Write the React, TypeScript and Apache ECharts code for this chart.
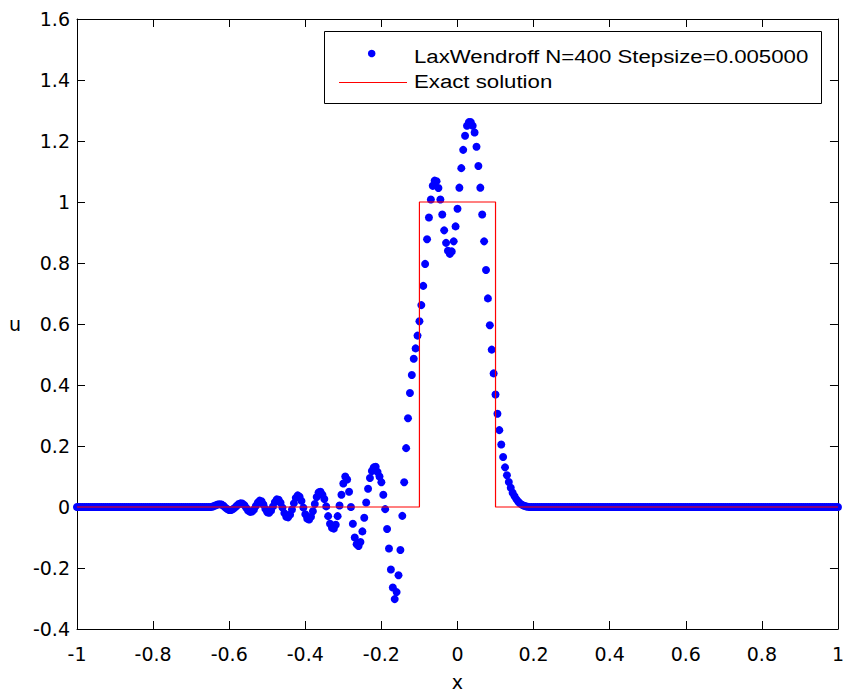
import React, { useEffect, useRef } from "react";
import * as echarts from "echarts";

// Grid definition stated in the legend: N=400, Stepsize=0.005 on [-1, 1]
const X_START = -1;
const STEPSIZE = 0.005;

// Lax-Wendroff numerical solution u at x = -1 + i*0.005 (i = 0..400)
const U_LEFT_FLAT = [
  0, 0, 0, 0, 0, 0, 0, 0, 0, 0, 0, 0, 0, 0, 0, 0, 0, 0, 0, 0,
  0, 0, 0, 0, 0, 0, 0, 0, 0, 0, 0, 0, 0, 0, 0, 0, 0, 0, 0, 0,
  0, 0, 0, 0, 0, 0, 0, 0, 0, 0, 0, 0, 0, 0, 0, 0, 0, 0, 0, 0,
  0, 0, 0, 0, 0, 0, 0, 0, 0, 0,
];
const U_WAVES = [
  0, 0.001, 0.003, 0.006, 0.008, 0.009, 0.008, 0.004, -0.002, -0.007,
  -0.01, -0.01, -0.007, -0.002, 0.004, 0.01, 0.012, 0.011, 0.006, -0.003,
  -0.012, -0.016, -0.015, -0.008, 0.003, 0.014, 0.021, 0.019, 0.008, -0.006,
  -0.017, -0.019, -0.012, 0.002, 0.016, 0.025, 0.024, 0.014, -0.002, -0.02,
  -0.032, -0.034, -0.025, -0.008, 0.012, 0.03, 0.038, 0.034, 0.02, -0.002,
  -0.024, -0.038, -0.041, -0.032, -0.014, 0.01, 0.033, 0.048, 0.05, 0.04,
  0.026, 0.002, -0.03, -0.055, -0.068, -0.071, -0.058, -0.03, 0.005, 0.04,
  0.077, 0.1, 0.09, 0.05, 0.0, -0.055, -0.1, -0.122, -0.128, -0.115,
  -0.08, -0.035, 0.015, 0.06, 0.095, 0.118, 0.13, 0.132, 0.115, 0.1,
  0.081, 0.04, -0.007, -0.072, -0.136, -0.205, -0.264, -0.302, -0.279, -0.224,
  -0.141, -0.029, 0.081, 0.193, 0.291, 0.374, 0.433, 0.486, 0.52, 0.562,
  0.609, 0.662, 0.725, 0.797, 0.878, 0.949, 1.008, 1.053, 1.07, 1.068,
  1.046, 1.008, 0.959, 0.907, 0.866, 0.84, 0.83, 0.838, 0.871, 0.92,
  0.978, 1.047, 1.111, 1.171, 1.217, 1.25, 1.262, 1.262, 1.25, 1.228,
  1.181, 1.118, 1.047, 0.959, 0.871, 0.777, 0.684, 0.596, 0.516, 0.438,
  0.369, 0.306, 0.252, 0.205, 0.164, 0.13, 0.104, 0.082, 0.063, 0.047,
  0.035, 0.025, 0.017, 0.011, 0.007, 0.004, 0.002, 0.001,
];
const U_RIGHT_FLAT = [
  0, 0, 0, 0, 0, 0, 0, 0, 0, 0, 0, 0, 0, 0, 0, 0, 0, 0, 0, 0,
  0, 0, 0, 0, 0, 0, 0, 0, 0, 0, 0, 0, 0, 0, 0, 0, 0, 0, 0, 0,
  0, 0, 0, 0, 0, 0, 0, 0, 0, 0, 0, 0, 0, 0, 0, 0, 0, 0, 0, 0,
  0, 0, 0, 0, 0, 0, 0, 0, 0, 0, 0, 0, 0, 0, 0, 0, 0, 0, 0, 0,
  0, 0, 0, 0, 0, 0, 0, 0, 0, 0, 0, 0, 0, 0, 0, 0, 0, 0, 0, 0,
  0, 0, 0, 0, 0, 0, 0, 0, 0, 0, 0, 0, 0, 0, 0, 0, 0, 0, 0, 0,
  0, 0, 0, 0, 0, 0, 0, 0, 0, 0, 0, 0, 0, 0, 0, 0, 0, 0, 0, 0,
  0, 0, 0, 0, 0, 0, 0, 0, 0, 0, 0, 0, 0, 0, 0, 0, 0, 0, 0, 0,
  0, 0, 0,
];

// Exact solution (square pulse)
const EXACT_X = [-1, -0.1, -0.1, 0.1, 0.1, 1];
const EXACT_U = [0, 0, 1, 1, 0, 0];

const LEGEND_NUM = "LaxWendroff N=400 Stepsize=0.005000";
const LEGEND_EXACT = "Exact solution";

const X_TICKS = { min: -1, max: 1, interval: 0.2 };
const Y_TICKS = { min: -0.4, max: 1.6, interval: 0.2 };

export default function App() {
  const ref = useRef<HTMLDivElement>(null);

  useEffect(() => {
    if (!ref.current) return;
    const chart = echarts.init(ref.current, undefined, { renderer: "svg" });

    const U = [...U_LEFT_FLAT, ...U_WAVES, ...U_RIGHT_FLAT];
    const numData = U.map((u, i) => [X_START + i * STEPSIZE, u]);
    const exactData = EXACT_X.map((x, i) => [x, EXACT_U[i]]);

    const fmt = (v: number) => String(Math.round(v * 10) / 10);
    const tickFont = {
      color: "#000",
      fontFamily: "DejaVu Sans, Arial, sans-serif",
      fontSize: 19,
    };
    const axisLine = { show: true, onZero: false, lineStyle: { color: "#000", width: 1 } };
    const tick = { show: true, inside: true, length: 8, lineStyle: { color: "#000" } };

    chart.setOption({
      animation: false,
      backgroundColor: "#fff",
      grid: { left: 77, right: 3, top: 19, bottom: 62, containLabel: false },
      xAxis: [
        {
          type: "value",
          position: "bottom",
          ...X_TICKS,
          axisLine,
          axisTick: tick,
          splitLine: { show: false },
          axisLabel: { ...tickFont, margin: 15, formatter: fmt },
          name: "x",
          nameLocation: "middle",
          nameGap: 43,
          nameTextStyle: { ...tickFont },
        },
        {
          type: "value",
          position: "top",
          ...X_TICKS,
          axisLine,
          axisTick: tick,
          splitLine: { show: false },
          axisLabel: { show: false },
        },
      ],
      yAxis: [
        {
          type: "value",
          position: "left",
          ...Y_TICKS,
          axisLine,
          axisTick: tick,
          splitLine: { show: false },
          axisLabel: { ...tickFont, margin: 7, padding: [4, 0, 0, 0], formatter: fmt },
          name: "u",
          nameLocation: "middle",
          nameRotate: 0,
          nameGap: 56,
          nameTextStyle: { ...tickFont, padding: [0, 0, 10, 0] },
        },
        {
          type: "value",
          position: "right",
          ...Y_TICKS,
          axisLine,
          axisTick: tick,
          splitLine: { show: false },
          axisLabel: { show: false },
        },
      ],
      series: [
        {
          name: LEGEND_NUM,
          type: "scatter",
          data: numData,
          symbol: "circle",
          symbolSize: 8,
          itemStyle: { color: "#0000ff", opacity: 1 },
          z: 2,
        },
        {
          name: LEGEND_EXACT,
          type: "line",
          data: exactData,
          showSymbol: false,
          symbol: "none",
          lineStyle: { color: "#ff0000", width: 1.2 },
          z: 3,
        },
      ],
      graphic: [
        {
          type: "group",
          z: 100,
          children: [
            {
              type: "rect",
              shape: { x: 324.5, y: 31.5, width: 497, height: 72 },
              style: { fill: "#fff", stroke: "#000", lineWidth: 1 },
            },
            {
              type: "circle",
              shape: { cx: 371.7, cy: 53.5, r: 3.8 },
              style: { fill: "#0000ff" },
            },
            {
              type: "line",
              shape: { x1: 339, y1: 82.5, x2: 407, y2: 82.5 },
              style: { stroke: "#ff0000", lineWidth: 1 },
            },
            {
              type: "text",
              x: 414,
              y: 56,
              scaleX: 1.17,
              style: {
                text: LEGEND_NUM,
                fill: "#000",
                fontFamily: "Liberation Sans, Arial, sans-serif",
                fontSize: 19,
                verticalAlign: "middle",
                align: "left",
              },
            },
            {
              type: "text",
              x: 414,
              y: 81,
              scaleX: 1.17,
              style: {
                text: LEGEND_EXACT,
                fill: "#000",
                fontFamily: "Liberation Sans, Arial, sans-serif",
                fontSize: 19,
                verticalAlign: "middle",
                align: "left",
              },
            },
          ],
        },
      ],
    });

    return () => chart.dispose();
  }, []);

  return (
    <div
      ref={ref}
      style={{ position: "fixed", left: 0, top: 0, width: 847, height: 696, background: "#fff" }}
    />
  );
}
